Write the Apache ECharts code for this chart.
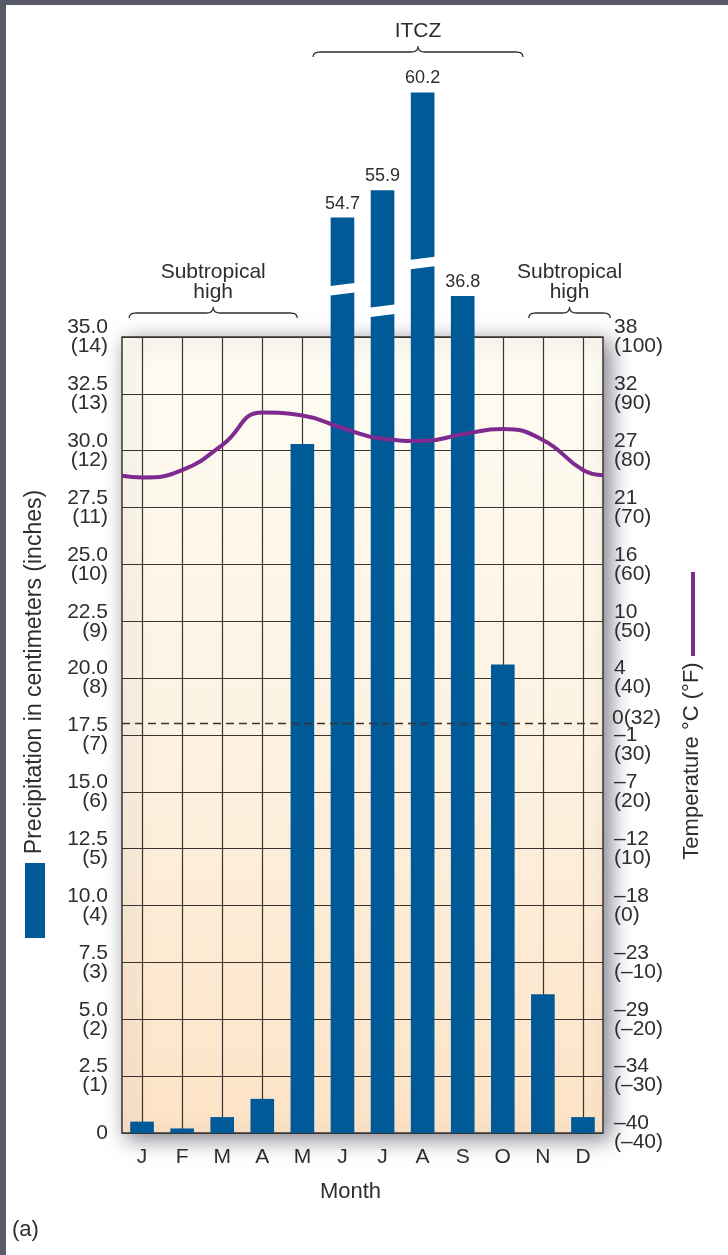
<!DOCTYPE html>
<html>
<head>
<meta charset="utf-8">
<script src="https://cdn.jsdelivr.net/npm/echarts@6/dist/echarts.min.js"></script>
<style>
  html, body { margin: 0; padding: 0; background: #ffffff; }
  #chart { width: 728px; height: 1255px; }
</style>
</head>
<body>
<div id="chart"></div>
<script>
// ---- Monthly climate record ----
const months = ['Jan', 'Feb', 'Mar', 'Apr', 'May', 'Jun', 'Jul', 'Aug', 'Sep', 'Oct', 'Nov', 'Dec'];
const precipCm = [0.5, 0.2, 0.7, 1.5, 30.3, 54.7, 55.9, 60.2, 36.8, 20.6, 6.1, 0.7];
const tempF = [75.3, 76.6, 81.0, 86.7, 86.2, 84.0, 82.1, 81.7, 82.9, 83.8, 81.9, 76.6];
const tempStartF = 75.6;   // start of January
const tempEndF = 75.7;     // end of December

// ---- Tick labels ----
const inchTicks = [0, 1, 2, 3, 4, 5, 6, 7, 8, 9, 10, 11, 12, 13, 14];
const tempTicksF = [-40, -30, -20, -10, 0, 10, 20, 30, 40, 50, 60, 70, 80, 90, 100];
const tempTicksC = ['–40', '–34', '–29', '–23', '–18', '–12', '–7', '–1', '4', '10', '16', '21', '27', '32', '38'];
const freezingF = 32;
const freezingLabel = '0(32)';

// ---- Pressure-belt annotations (spans in month units, 0 = January) ----
const zones = [
  { text: 'Subtropical\nhigh', from: -0.32, to: 3.87, level: 'low' },
  { text: 'ITCZ', from: 4.27, to: 9.5, level: 'high' },
  { text: 'Subtropical\nhigh', from: 9.65, to: 11.68, level: 'low' }
];

// ---- Styling / layout ----
const FONT = '"Liberation Sans", Arial, Helvetica, sans-serif';
const INK = '#2e2e2e';
const GRID_INK = '#3a3431';
const BAR_BLUE = '#005a97';
const TEMP_PURPLE = '#7e2a8f';
const FRAME_GREY = '#585a6a';

const W = 728, H = 1255;
const PLOT = { left: 122, right: 603, top: 337, bottom: 1133 };
const PLOT_W = PLOT.right - PLOT.left;
const PLOT_H = PLOT.bottom - PLOT.top;
const CM_MAX = 35, CM_STEP = 2.5;
const pxPerCm = PLOT_H / CM_MAX;
const catW = PLOT_W / months.length;
const BAR_RATIO = 0.59;

// The bar scale runs on above the frame; the stretch between BREAK_START and
// BREAK_START + BREAK_SPAN is squeezed out so the wettest months still fit.
const BAR_AXIS_MAX = 62;
const BREAK_START = 39;
const BREAK_SPAN = 14.45;
const barGridTop = PLOT.bottom - (BAR_AXIS_MAX - BREAK_SPAN) * pxPerCm;

// Where the white "broken bar" cut is drawn on each compressed bar (cm level)
const cutLevel = { 5: 37.1, 6: 36.15, 7: 38.25 };

const fmtNeg = (v) => (v < 0 ? '–' + Math.abs(v) : String(v));

const tempPoints = [[-0.5, tempStartF]]
  .concat(tempF.map((t, i) => [i, t]))
  .concat([[months.length - 0.5, tempEndF]]);

const cutMarks = precipCm
  .map((v, i) => (v > BREAK_START && cutLevel[i] != null ? [i, cutLevel[i]] : null))
  .filter(Boolean);

const chart = echarts.init(document.getElementById('chart'), null, { renderer: 'canvas' });

const option = {
  animation: false,
  backgroundColor: '#ffffff',
  textStyle: { fontFamily: FONT, color: INK },
  grid: [
    { // frame with the horizontal rules and the two labelled scales
      left: PLOT.left, top: PLOT.top, width: PLOT_W, height: PLOT_H,
      outerBoundsMode: 'none',
      show: true,
      z: -1,
      backgroundColor: new echarts.graphic.LinearGradient(0, 0, 0, 1, [
        { offset: 0, color: '#fefcf3' },
        { offset: 0.5, color: '#fdf2e2' },
        { offset: 1, color: '#fde3c6' }
      ]),
      borderColor: GRID_INK,
      borderWidth: 1.5,
      shadowBlur: 20,
      shadowColor: 'rgba(40, 42, 60, 0.6)',
      shadowOffsetX: 6,
      shadowOffsetY: 5
    },
    { // month-centred vertical rules
      left: PLOT.left + catW / 2, top: PLOT.top, width: PLOT_W - catW, height: PLOT_H,
      outerBoundsMode: 'none'
    },
    { // precipitation bars
      left: PLOT.left, top: barGridTop, width: PLOT_W, height: PLOT.bottom - barGridTop,
      outerBoundsMode: 'none'
    }
  ],
  xAxis: [
    {
      gridIndex: 0, type: 'category', data: months, boundaryGap: true,
      axisLine: { show: false }, axisTick: { show: false }, splitLine: { show: false },
      axisLabel: {
        interval: 0, margin: 14, fontSize: 21, color: INK, fontFamily: FONT,
        formatter: (m) => m.charAt(0)
      },
      name: 'Month', nameLocation: 'middle', nameGap: 48,
      nameTextStyle: { fontSize: 22, color: INK, fontFamily: FONT, padding: [0, 24, 0, 0] }
    },
    {
      gridIndex: 1, type: 'value', min: 0, max: months.length - 1, interval: 1,
      axisLine: { show: false }, axisTick: { show: false }, axisLabel: { show: false },
      splitLine: { show: true, showMinLine: true, showMaxLine: true, lineStyle: { color: GRID_INK, width: 1.2 } }
    },
    {
      gridIndex: 0, type: 'value', min: -0.5, max: months.length - 0.5, show: false
    },
    {
      gridIndex: 2, type: 'category', data: months, boundaryGap: true, show: false
    }
  ],
  yAxis: [
    {
      gridIndex: 0, type: 'value', min: 0, max: CM_MAX, interval: CM_STEP,
      axisLine: { show: false }, axisTick: { show: false },
      splitLine: { show: true, lineStyle: { color: GRID_INK, width: 1.2 } },
      axisLabel: {
        margin: 14, fontSize: 21, lineHeight: 19, color: INK, fontFamily: FONT,
        formatter: (v) => {
          const i = Math.round(v / CM_STEP);
          return v === 0 ? '0' : v.toFixed(1) + '\n(' + inchTicks[i] + ')';
        }
      }
    },
    {
      gridIndex: 0, type: 'value', position: 'right',
      min: tempTicksF[0], max: tempTicksF[tempTicksF.length - 1], interval: 10,
      axisLine: { show: false }, axisTick: { show: false }, splitLine: { show: false },
      axisLabel: {
        margin: 11, fontSize: 21, lineHeight: 19, color: INK, fontFamily: FONT,
        formatter: (v) => {
          const i = tempTicksF.indexOf(v);
          const txt = tempTicksC[i] + '\n(' + fmtNeg(v) + ')';
          // step the label just below the freezing mark down out of its way
          return (v < freezingF && freezingF - v < 5) ? '\n' + txt : txt;
        }
      }
    },
    { gridIndex: 1, type: 'value', min: 0, max: 1, show: false },
    {
      gridIndex: 2, type: 'value', min: 0, max: BAR_AXIS_MAX, show: false,
      breaks: [{ start: BREAK_START, end: BREAK_START + BREAK_SPAN, gap: 0 }],
      breakArea: { show: false }
    }
  ],
  series: [
    {
      name: 'Freezing', type: 'line', xAxisIndex: 2, yAxisIndex: 1, z: 1,
      data: [], symbol: 'none',
      markLine: {
        silent: true, symbol: 'none',
        lineStyle: { type: [8, 5], color: GRID_INK, width: 1.3 },
        label: {
          show: true, position: 'end', distance: 9, offset: [0, -5],
          formatter: freezingLabel, fontSize: 21, color: INK, fontFamily: FONT
        },
        data: [{ yAxis: freezingF }]
      }
    },
    {
      name: 'Precipitation', type: 'bar', xAxisIndex: 3, yAxisIndex: 3, z: 2,
      barWidth: (BAR_RATIO * 100) + '%',
      itemStyle: { color: BAR_BLUE },
      label: {
        show: false, position: 'top', distance: 5,
        fontSize: 18, color: INK, fontFamily: FONT
      },
      data: precipCm.map((v) => ({ value: v, label: { show: v > CM_MAX } }))
    },
    {
      name: 'Bar cuts', type: 'custom', xAxisIndex: 3, yAxisIndex: 3, z: 3,
      silent: true,
      data: cutMarks,
      renderItem: (params, api) => {
        const c = api.coord([api.value(0), api.value(1)]);
        const w = api.size([1, 0])[0] * BAR_RATIO + 4;
        const gap = 9.5, slant = 3.5;
        const xl = c[0] - w / 2, xr = c[0] + w / 2;
        return {
          type: 'polygon',
          shape: {
            points: [
              [xl, c[1] + gap / 2 + slant / 2], [xr, c[1] + gap / 2 - slant / 2],
              [xr, c[1] - gap / 2 - slant / 2], [xl, c[1] - gap / 2 + slant / 2]
            ]
          },
          style: { fill: '#ffffff' }
        };
      }
    },
    {
      name: 'Temperature', type: 'line', xAxisIndex: 2, yAxisIndex: 1, z: 4,
      data: tempPoints, smooth: 0.5, symbol: 'none',
      lineStyle: { color: TEMP_PURPLE, width: 4 }
    }
  ],
  graphic: [
    { id: 'frameL', type: 'rect', shape: { x: 0, y: 0, width: 6, height: H }, style: { fill: FRAME_GREY }, z: 100 },
    { id: 'frameT', type: 'rect', shape: { x: 0, y: 0, width: W, height: 5 }, style: { fill: FRAME_GREY }, z: 100 },
    {
      id: 'precipTitle', type: 'text', x: 35, y: 672, rotation: Math.PI / 2,
      style: { text: 'Precipitation in centimeters (inches)', font: '23px ' + FONT, fill: INK, align: 'center', verticalAlign: 'middle' }
    },
    { id: 'precipKey', type: 'rect', shape: { x: 25, y: 863, width: 20, height: 75 }, style: { fill: BAR_BLUE } },
    {
      id: 'tempTitle', type: 'text', x: 692, y: 761, rotation: Math.PI / 2,
      style: { text: 'Temperature °C (°F)', font: '22px ' + FONT, fill: INK, align: 'center', verticalAlign: 'middle' }
    },
    { id: 'tempKey', type: 'rect', shape: { x: 691, y: 572, width: 4, height: 84 }, style: { fill: TEMP_PURPLE } },
    {
      id: 'panel', type: 'text', x: 12, y: 1230,
      style: { text: '(a)', font: '22px ' + FONT, fill: INK, align: 'left', verticalAlign: 'middle' }
    }
  ]
};

chart.setOption(option);

// ---- Braces and belt names, placed on the month scale ----
function quad(p0, c, p1, n) {
  const pts = [];
  for (let k = 0; k <= n; k++) {
    const t = k / n, u = 1 - t;
    pts.push([u * u * p0[0] + 2 * u * t * c[0] + t * t * p1[0], u * u * p0[1] + 2 * u * t * c[1] + t * t * p1[1]]);
  }
  return pts;
}
function bracePoints(x0, x1, y) {
  const xm = (x0 + x1) / 2, r = 7, hook = 5, tip = 6;
  return [].concat(
    quad([x0, y + hook], [x0, y], [x0 + r, y], 8),
    quad([xm - r, y], [xm, y], [xm, y - tip], 8),
    quad([xm, y - tip], [xm, y], [xm + r, y], 8),
    quad([x1 - r, y], [x1, y], [x1, y + hook], 8)
  );
}
const levels = {
  low: { braceY: 313, textY: 282 },
  high: { braceY: 52, textY: 31 }
};
const extra = [];
zones.forEach((z, k) => {
  const x0 = chart.convertToPixel({ xAxisIndex: 2 }, z.from);
  const x1 = chart.convertToPixel({ xAxisIndex: 2 }, z.to);
  const lv = levels[z.level];
  extra.push({
    id: 'brace' + k, type: 'polyline',
    shape: { points: bracePoints(x0, x1, lv.braceY) },
    style: { stroke: INK, lineWidth: 1.3, fill: null }
  });
  extra.push({
    id: 'zone' + k, type: 'text', x: (x0 + x1) / 2, y: lv.textY,
    style: { text: z.text, font: '21px ' + FONT, lineHeight: 20, fill: INK, align: 'center', verticalAlign: 'middle' }
  });
});
chart.setOption({ graphic: extra });
</script>
</body>
</html>
